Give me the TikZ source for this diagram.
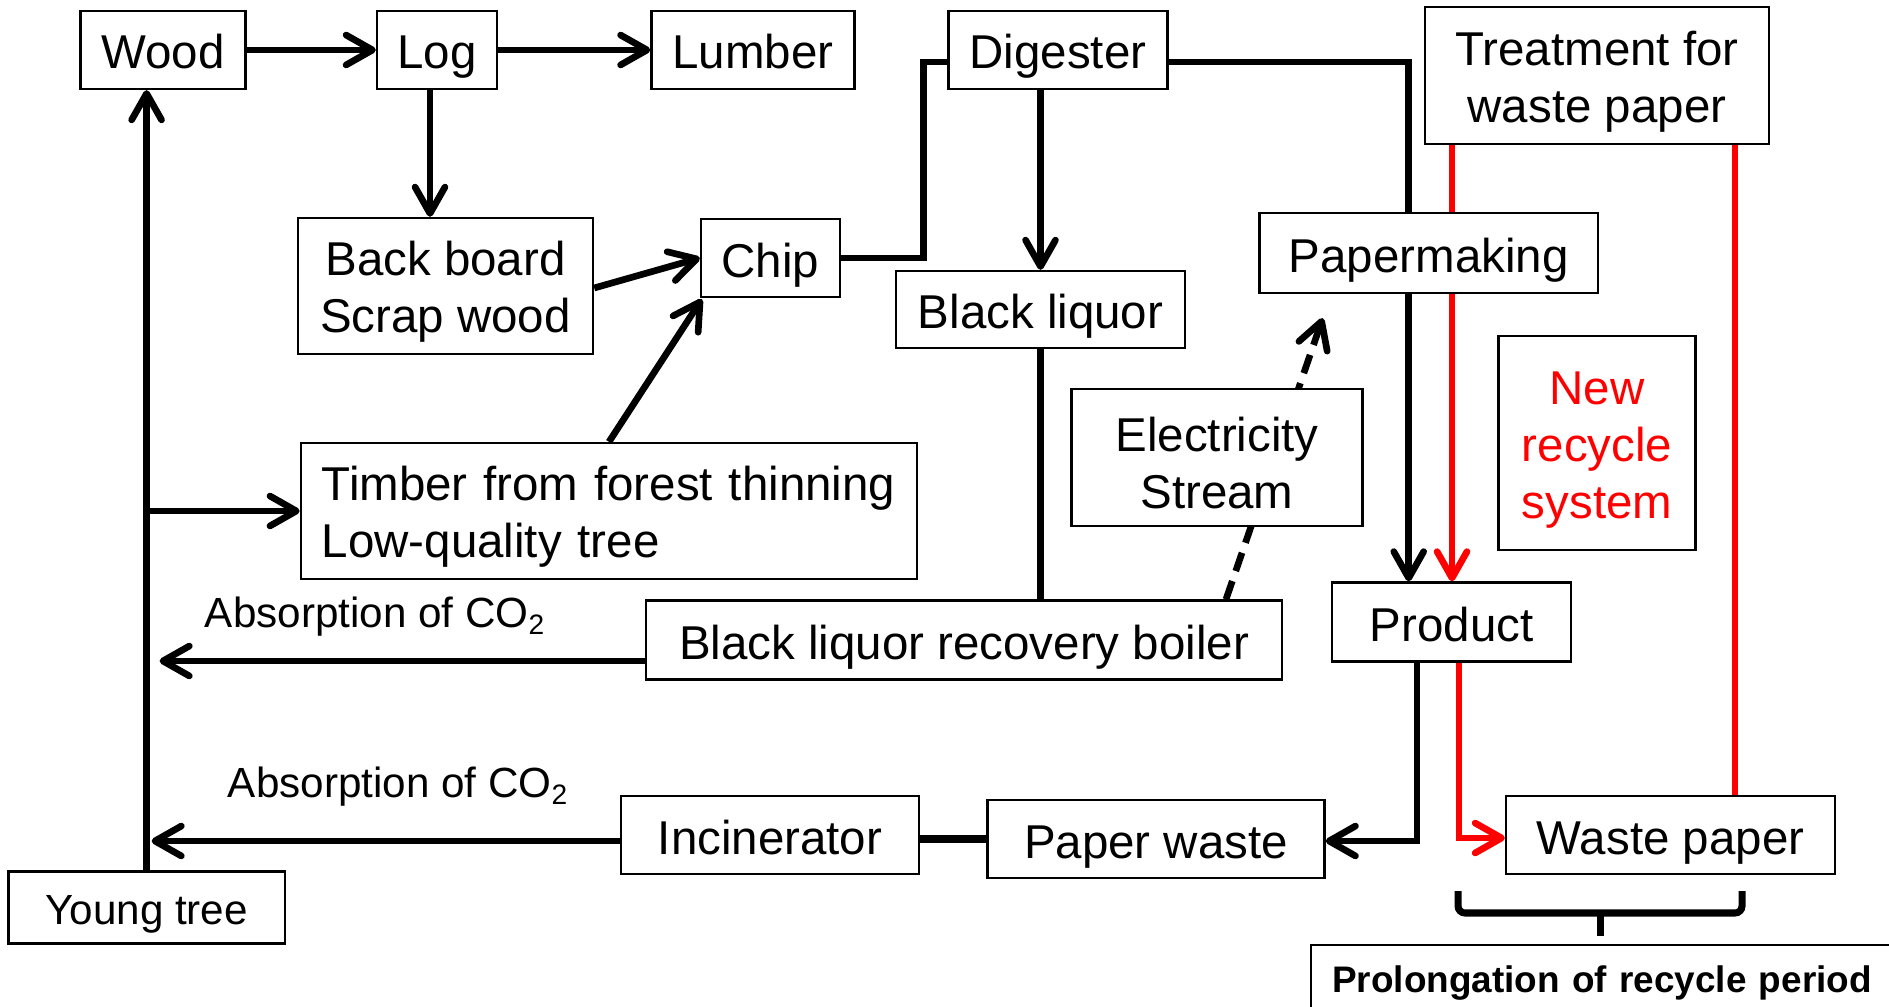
\documentclass[tikz,border=0pt]{standalone}
\usepackage{fontspec}
\setmainfont{Liberation Sans}
\usetikzlibrary{arrows.meta,calc}
\pgfdeclarelayer{bg}
\pgfsetlayers{bg,main}
\newcommand\mainfs{\fontsize{13.5}{16.2}\selectfont}
\newcommand\toprule{\rule{0pt}{0.46cm}}
\begin{document}
\begin{tikzpicture}[x=0.01cm,y=-0.01cm,
  box/.style={draw, line width=0.65pt, fill=white, inner sep=0pt, align=center, font=\mainfs},
  one/.style={box, text height=0.42cm, text depth=0.04cm},
  lab/.style={inner sep=0pt, font=\fontsize{12}{14}\selectfont},
  conline/.style={line width=1.9pt},
  arr/.style={line width=1.9pt, -{Straight Barb[length=7.5pt,width=8.5pt,round]}},
  redarr/.style={arr, red},
  redline/.style={conline, red},
  dasharr/.style={arr, dash pattern=on 5.5pt off 3pt},
  bracestyle/.style={line width=2pt, rounded corners=2pt}]
\useasboundingbox (0,0) rectangle (1889,1007);
\clip (0,0) rectangle (1889,1007);
% nodes
\node[one, minimum width=1.65cm, minimum height=0.78cm] (wood) at (163,50) {Wood};
\node[one, minimum width=1.20cm, minimum height=0.78cm] (log) at (437,50) {Log};
\node[one, minimum width=2.03cm, minimum height=0.78cm] (lumber) at (753,50) {Lumber};
\node[one, minimum width=2.19cm, minimum height=0.78cm] (digester) at (1058,50) {Digester};
\node[box, minimum width=3.44cm, minimum height=1.37cm] (treat) at (1597,75.5) {\toprule Treatment for\\waste paper};
\node[box, minimum width=2.95cm, minimum height=1.36cm] (back) at (445.5,286) {\toprule Back board\\Scrap wood};
\node[one, minimum width=1.39cm, minimum height=0.78cm] (chip) at (770.5,258) {Chip};
\node[one, minimum width=2.89cm, minimum height=0.77cm] (bliq) at (1040.5,309.5) {Black liquor};
\node[one, minimum width=3.38cm, minimum height=0.80cm] (paper) at (1428.7,253) {Papermaking};
\node[box, text=red, minimum width=1.97cm, minimum height=2.14cm] (newrec) at (1597,443) {\toprule New\\recycle\\system};
\node[box, minimum width=2.91cm, minimum height=1.37cm] (elec) at (1217,457.5) {\toprule Electricity\\Stream};
\node[box, align=left, text width=5.74cm, inner xsep=0.21cm, minimum height=1.36cm] (timber) at (609,511) {\toprule Timber from forest thinning\\Low-quality tree};
\node[one, minimum width=6.35cm, minimum height=0.79cm] (boiler) at (964,640) {Black liquor recovery boiler};
\node[one, minimum width=2.39cm, minimum height=0.79cm] (product) at (1451.6,622) {Product};
\node[one, minimum width=2.98cm, minimum height=0.78cm] (incin) at (770,835) {Incinerator};
\node[one, minimum width=3.37cm, minimum height=0.78cm] (pwaste) at (1156,839) {Paper waste};
\node[one, minimum width=3.29cm, minimum height=0.78cm] (wpaper) at (1670.6,835) {Waste paper};
\node[one, font=\fontsize{12}{14}\selectfont, text height=0.38cm, minimum width=2.76cm, minimum height=0.72cm] (young) at (146.6,907.5) {Young tree};
\node[lab] (abs1) at (375.5,617) {Absorption of CO\textsubscript{2}};
\node[lab] (abs2) at (398.5,787) {Absorption of CO\textsubscript{2}};
\node[draw, line width=0.65pt, fill=white, anchor=north west, text width=6cm, align=left,
      inner xsep=0.21cm, inner ysep=0.1cm, text height=0.37cm, text depth=0.3cm,
      font=\bfseries\fontsize{10.5}{12}\selectfont] (prolong) at (1310,944) {Prolongation of recycle period};
% connectors
\begin{pgfonlayer}{bg}
\draw[arr] (wood.east) -- (log.west);
\draw[arr] (log.east) -- (lumber.west);
\coordinate (logd) at ($(log.south)+(-7,0)$);
\draw[arr] (logd) -- (logd |- back.north);
\draw[arr] ($(back.east)+(0,2)$) -- (chip.west);
\draw[arr] (timber.north) -- ($(chip.south west)+(2,1)$);
\draw[conline] (chip.east) -| ($(digester.west)+(-24,12)$) -- ($(digester.west)+(0,12)$);
\coordinate (pmtop) at ($(paper.north)+(-20,0)$);
\draw[conline] ($(digester.east)+(0,12)$) -| (pmtop);
\coordinate (pmbot) at ($(paper.south)+(-20,0)$);
\draw[arr] (pmbot) -- (pmbot |- product.north);
\draw[arr] (bliq.north |- digester.south) -- (bliq.north);
\draw[conline] (bliq.south) -- (bliq.south |- boiler.north);
\draw[dasharr] ($(boiler.north)+(262,0)$) -- ($(paper.south)+(-106,24)$);
\coordinate (tl) at ($(treat.south)+(-145,0)$);
\coordinate (tr) at ($(treat.south)+(138,0)$);
\draw[redarr] (tl) -- (tl |- product.north);
\draw[redline] (tr) -- (tr |- wpaper.north);
\draw[arr] ($(product.south)+(-34.6,0)$) |- ($(pwaste.east)+(0,2)$);
\draw[redarr] ($(product.south)+(7.4,0)$) |- ($(wpaper.west)+(0,3)$);
\draw[line width=2.2pt] ($(incin.east)+(0,4)$) -- (pwaste.west);
\draw[arr] ($(incin.west)+(0,6)$) -- ($(young.north |- incin.west)+(5,6)$);
\draw[arr] ($(boiler.west)+(0,21)$) -- ($(young.north |- boiler.west)+(13,21)$);
\draw[arr] (young.north) -- (young.north |- wood.south);
\draw[arr] (young.north |- timber.west) -- (timber.west);
\draw[bracestyle] (1458,891) -- (1458,913) -- (1742,913) -- (1742,891);
\draw[line width=2pt] (1600,913) -- (1600,936);
\end{pgfonlayer}
\end{tikzpicture}
\end{document}
